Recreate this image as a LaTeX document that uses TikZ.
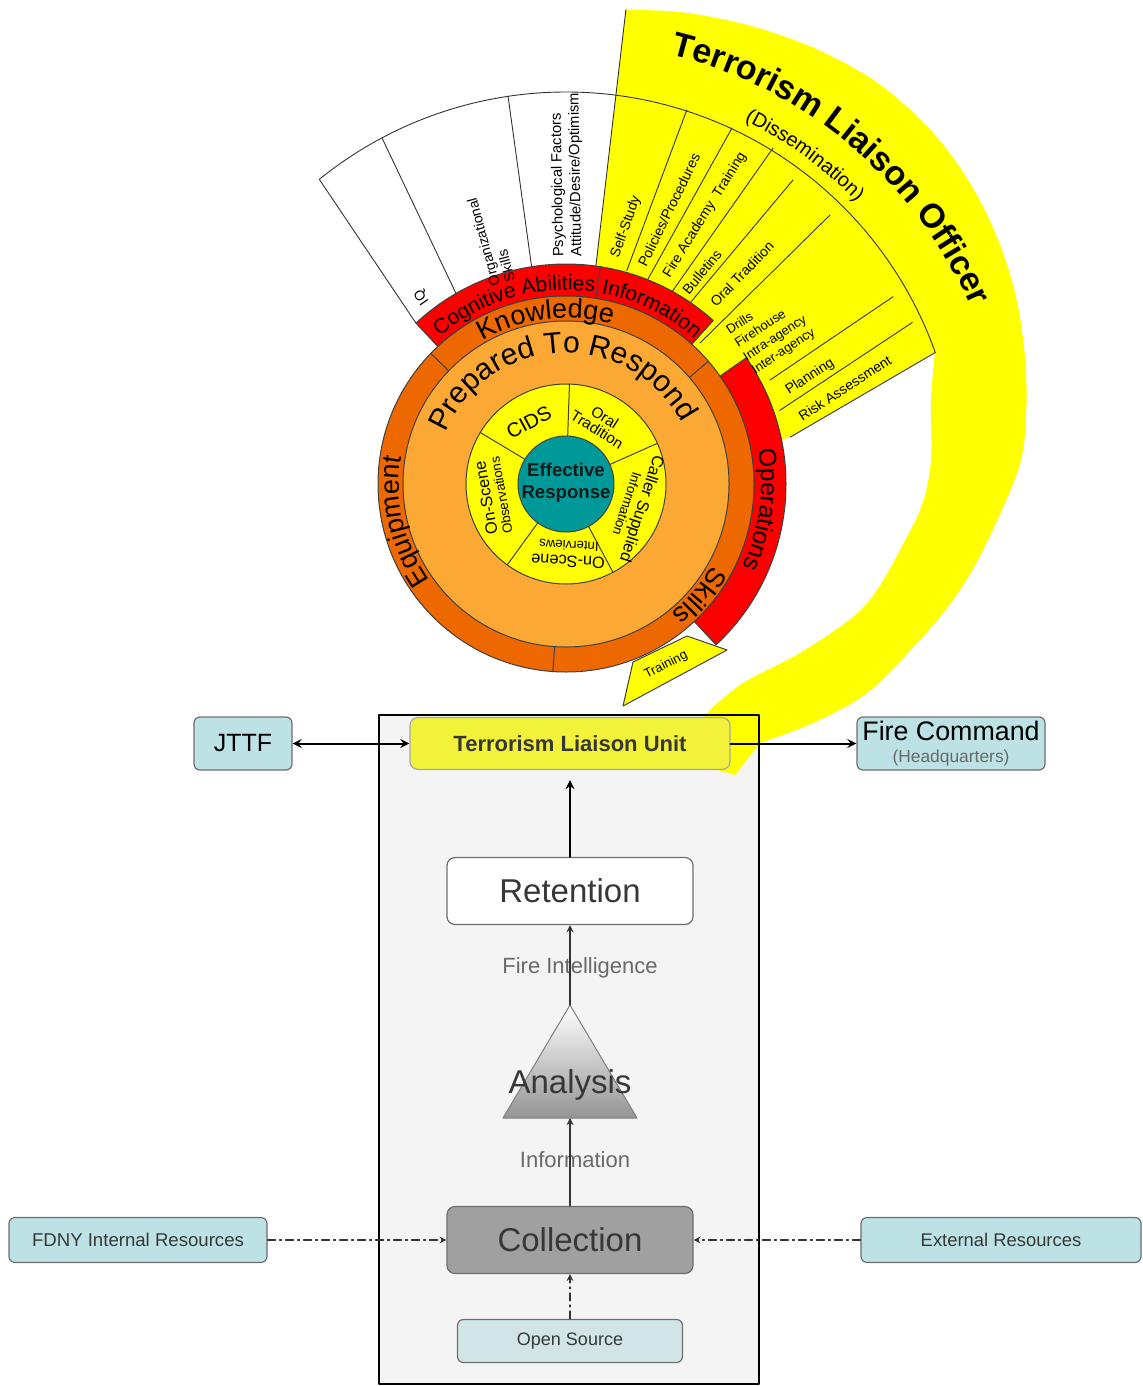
\documentclass[tikz,border=0pt]{standalone}
\usepackage{fontspec}
\setmainfont{Liberation Sans}
\usetikzlibrary{decorations.text}
\definecolor{tealcore}{RGB}{0,153,153}
\definecolor{paleorange}{RGB}{251,168,52}
\definecolor{deeporange}{RGB}{238,104,0}
\definecolor{ringred}{RGB}{252,0,0}
\definecolor{fanyellow}{RGB}{255,255,0}
\definecolor{boxcyan}{RGB}{188,226,229}
\definecolor{boxedge}{RGB}{110,110,110}
\definecolor{panelgray}{RGB}{244,244,244}
\definecolor{tluyellow}{RGB}{242,242,58}
\definecolor{collgray}{RGB}{160,160,160}
\definecolor{textgray}{RGB}{55,55,55}
\definecolor{lblgray}{RGB}{105,105,105}
\newcommand\tlofont{\fontsize{17}{17}\selectfont\bfseries}
\newcommand\dissfont{\fontsize{10}{10}\selectfont}
\newcommand\prepfont{\fontsize{15}{15}\selectfont}
\newcommand\ringfont{\fontsize{13.5}{13.5}\selectfont}
\newcommand\redfont{\fontsize{10.5}{10.5}\selectfont}
\newcommand\opsfont{\fontsize{12.3}{12.3}\selectfont}
\begin{document}
\begin{tikzpicture}[x=0.5pt,y=0.5pt,>=stealth,line join=round,line cap=round,
    ringline/.style={draw=black!75,line width=0.5pt},
    fanline/.style={black!80,line width=0.45pt},
    fanlbl/.style={inner sep=0pt,font=\fontsize{7}{8}\selectfont},
    corelbl/.style={inner sep=0pt,align=center,font=\fontsize{8.2}{7.4}\selectfont},
    arcword/.style={decorate,decoration={text along path,text align=center,text={#1}}},
    sidebox/.style={draw=boxedge,fill=boxcyan,rounded corners=3pt,line width=0.6pt,text=textgray,inner sep=0pt},
    tlubox/.style={draw=gray!70,fill=tluyellow,rounded corners=4pt,line width=0.6pt,text=textgray,inner sep=0pt,
        minimum width=160pt,minimum height=26pt,font=\fontsize{11}{12}\selectfont\bfseries},
    stagebox/.style={draw=boxedge,rounded corners=4pt,line width=0.6pt,inner sep=0pt,text=textgray,
        minimum width=123pt,minimum height=33.5pt,font=\fontsize{16.5}{17}\selectfont},
    flowlbl/.style={text=lblgray,inner sep=0pt,font=\fontsize{11}{12}\selectfont},
    dotarrow/.style={->,gray!40!black,line width=0.55pt,dash pattern=on 4pt off 2pt on 1pt off 2pt}]
\useasboundingbox (0,-1386) rectangle (1143,0);

% panel behind the flow
\fill[panelgray] (379,-715) rectangle (759,-1384);

\begin{scope}[shift={(566,-484)}]
    % liaison officer band
    \fill[fanyellow] (82:188) -- (82.8:478)
        -- plot[smooth,tension=0.55] coordinates {(82.8:478) (76:486) (68:494) (60:502) (52:508) (44:508) (37:504) (30:497) (23:488) (16:477) (9:466) (2:453) (417,-66) (387,-116) (351,-159) (301,-209) (247,-239) (194,-259)}
        -- (169,-291) -- (134,-281) -- (134,-238)
        -- plot[smooth,tension=0.55] coordinates {(144,-226) (177,-199) (234,-169) (287,-133) (311,-106) (334,-66) (356,-21) (365,24) (365,84) (369,132)}
        -- (11.8:229) -- (11:188) arc[start angle=11,end angle=82,radius=188] -- cycle;
\end{scope}
\draw[line width=0.8pt] (379,-715) rectangle (759,-1384);

\begin{scope}[shift={(566,-484)}]
    % outer fans
    \draw[fanline] (133:220) -- (129:392) (120:220) -- (118:392) (99:220) -- (98.5:392);
    \draw[fanline] (129:392) arc[start angle=129,end angle=19.6,radius=392];
    \draw[fanline] (82:188) -- (82.8:478);
    \draw[fanline] (74.1:222) -- (72.1:393) (82,205) -- (166,356) (106.6,193) -- (207,336)
        (124,181) -- (227,304) (134,141) -- (264,269) (27:229) -- (29.8:377)
        (19:226) -- (25:382) (11.8:229) -- (19.6:392);

    % red bands
    \filldraw[fill=ringred,ringline] (48:188) arc[start angle=48,end angle=133,radius=188]
        -- (133:220) arc[start angle=133,end angle=48,radius=220] -- cycle;
    \filldraw[fill=ringred,ringline] (-47:188) arc[start angle=-47,end angle=35,radius=188]
        -- (35:220) arc[start angle=35,end angle=-47,radius=220] -- cycle;
    \draw[ringline] (81:188) -- (81:220);
    \filldraw[fill=fanyellow,ringline] (67,-178) -- (121,-152) -- (161,-166) -- (57,-222) -- cycle;

    % rings
    \filldraw[fill=deeporange,ringline] (0,0) circle[radius=188];
    \filldraw[fill=paleorange,ringline] (0,0) circle[radius=163];
    \draw[ringline] (136:163) -- (136:188) (40.8:163) -- (40.8:188) (266:163) -- (266:188);
    \filldraw[fill=fanyellow,ringline] (0,0) circle[radius=100];
    \foreach \a in {88,149,24,234,298}
        \draw[ringline] (\a:48) -- (\a:100);
    \filldraw[fill=tealcore,ringline] (0,0) circle[radius=48];

    % core labels
    \node[align=center,inner sep=0pt,text=black!90,font=\fontsize{9.3}{11}\selectfont\bfseries] (core) at (0,1) {Effective\\Response};
    \node[corelbl,rotate=28,font=\fontsize{10}{10}\selectfont] (cids) at (121:72) {CIDS};
    \node[corelbl,rotate=-32,font=\fontsize{7.6}{7.2}\selectfont] (oraltr) at (60:70) {Oral\\Tradition};
    \node[corelbl,rotate=-108] (caller) at (-18:73) {Caller Supplied\\{\fontsize{6.6}{6}\selectfont Information}};
    \node[corelbl,rotate=177] (intervw) at (-88:70) {On-Scene\\{\fontsize{6.6}{6}\selectfont Interviews}};
    \node[corelbl,rotate=100] (observ) at (190:74) {On-Scene\\{\fontsize{6.6}{6}\selectfont Observations}};

    % ring labels
    \path[arcword={|\prepfont|Prepared To Respond}] (170:131) arc[start angle=170,end angle=15,radius=131];
    \path[arcword={|\ringfont|Knowledge}] (130:166) arc[start angle=130,end angle=64,radius=166];
    \path[arcword={|\ringfont|Equipment}] (223:167) arc[start angle=223,end angle=163,radius=167];
    \path[arcword={|\ringfont|Skills}] (-20:167) arc[start angle=-20,end angle=-60,radius=167];
    \path[arcword={|\opsfont|Operations}] (25:195) arc[start angle=25,end angle=-40,radius=195];
    \path[arcword={|\redfont|Cognitive Abilities}] (135:194) arc[start angle=135,end angle=77,radius=194];
    \path[arcword={|\redfont|Information}] (84:194) arc[start angle=84,end angle=44,radius=194];
    \path[arcword={|\dissfont|(Dissemination)}] (70:405) arc[start angle=70,end angle=38,radius=405];
    \path[arcword={|\tlofont|Terrorism Liaison Officer}] (85:442) arc[start angle=85,end angle=15,radius=442];

    % fan labels
    \node[fanlbl,rotate=125] (iq) at (-144,187) {IQ};
    \node[fanlbl,rotate=105,align=left] (orgsk) at (-75,244) {Organizational\\Skills};
    \node[fanlbl,rotate=91,align=left,font=\fontsize{7.4}{9}\selectfont] (psych) at (1,309) {Psychological Factors\\Attitude/Desire/Optimism};
    \node[fanlbl,rotate=70.6] (selfst) at (60,257) {Self-Study};
    \node[fanlbl,rotate=64] (policy) at (103,274) {Policies/Procedures};
    \node[fanlbl,rotate=58] (academy) at (139,269) {Fire Academy\ \ Training};
    \node[fanlbl,rotate=51] (bullet) at (136,212) {Bulletins};
    \node[fanlbl,rotate=46] (oralfan) at (176,210) {Oral Tradition};
    \node[fanlbl,rotate=33,align=left,font=\fontsize{6.5}{7.8}\selectfont] (drills) at (205,152) {Drills\\Firehouse\\Intra-agency\\Inter-agency};
    \node[fanlbl,rotate=33] (plan) at (244,107) {Planning};
    \node[fanlbl,rotate=33] (risk) at (279,96) {Risk Assessment};
    \node[fanlbl,rotate=27,font=\fontsize{6.5}{7}\selectfont] (train) at (100,-181) {Training};
\end{scope}

% flow of the unit
\node[sidebox,text=black,minimum width=49pt,minimum height=26.5pt,font=\fontsize{12.5}{13}\selectfont] (jttf) at (243,-743.5) {JTTF};
\node[tlubox] (tlu) at (570,-743.5) {Terrorism Liaison Unit};
\node[sidebox,text=black,minimum width=94pt,minimum height=26.5pt,align=center,font=\fontsize{13.4}{11}\selectfont] (hq) at (951,-743.5)
    {Fire Command\\{\fontsize{8.7}{9}\selectfont\color{lblgray}(Headquarters)}};
\node[stagebox,fill=white] (ret) at (570,-891) {Retention};
\shade[top color=white,bottom color=black!42,draw=gray,line width=0.5pt] (503,-1118) -- (570,-1005) -- (637,-1118) -- cycle;
\coordinate (apex) at (570,-1005);
\coordinate (abase) at (570,-1118);
\node[text=textgray,inner sep=0pt,font=\fontsize{16.5}{17}\selectfont] (ana) at (570,-1085) {Analysis};
\node[stagebox,fill=collgray] (coll) at (570,-1240) {Collection};
\node[sidebox,minimum width=129pt,minimum height=22.5pt,font=\fontsize{9.3}{10}\selectfont] (fdny) at (138,-1240) {FDNY Internal Resources};
\node[sidebox,minimum width=140pt,minimum height=22.5pt,font=\fontsize{9.2}{10}\selectfont] (ext) at (1001,-1240) {External Resources};
\node[sidebox,fill=boxcyan!85!gray!60,minimum width=112.5pt,minimum height=21.5pt,font=\fontsize{9}{10}\selectfont] (opensrc) at (570,-1341) {Open Source};
\node[flowlbl] (fireint) at (580,-968) {Fire Intelligence};
\node[flowlbl] (infolbl) at (575,-1160) {Information};

\draw[<->,line width=1pt] (jttf) -- (tlu);
\draw[->,line width=1pt] (tlu) -- (hq);
\draw[->,line width=1pt,shorten >=5pt] (ret) -- (tlu);
\draw[->,gray!40!black,line width=0.6pt] (apex) -- (ret);
\draw[->,gray!40!black,line width=0.6pt] (coll) -- (abase);
\draw[dotarrow] (fdny) -- (coll);
\draw[dotarrow] (ext) -- (coll);
\draw[dotarrow] (opensrc) -- (coll);
\end{tikzpicture}
\end{document}
